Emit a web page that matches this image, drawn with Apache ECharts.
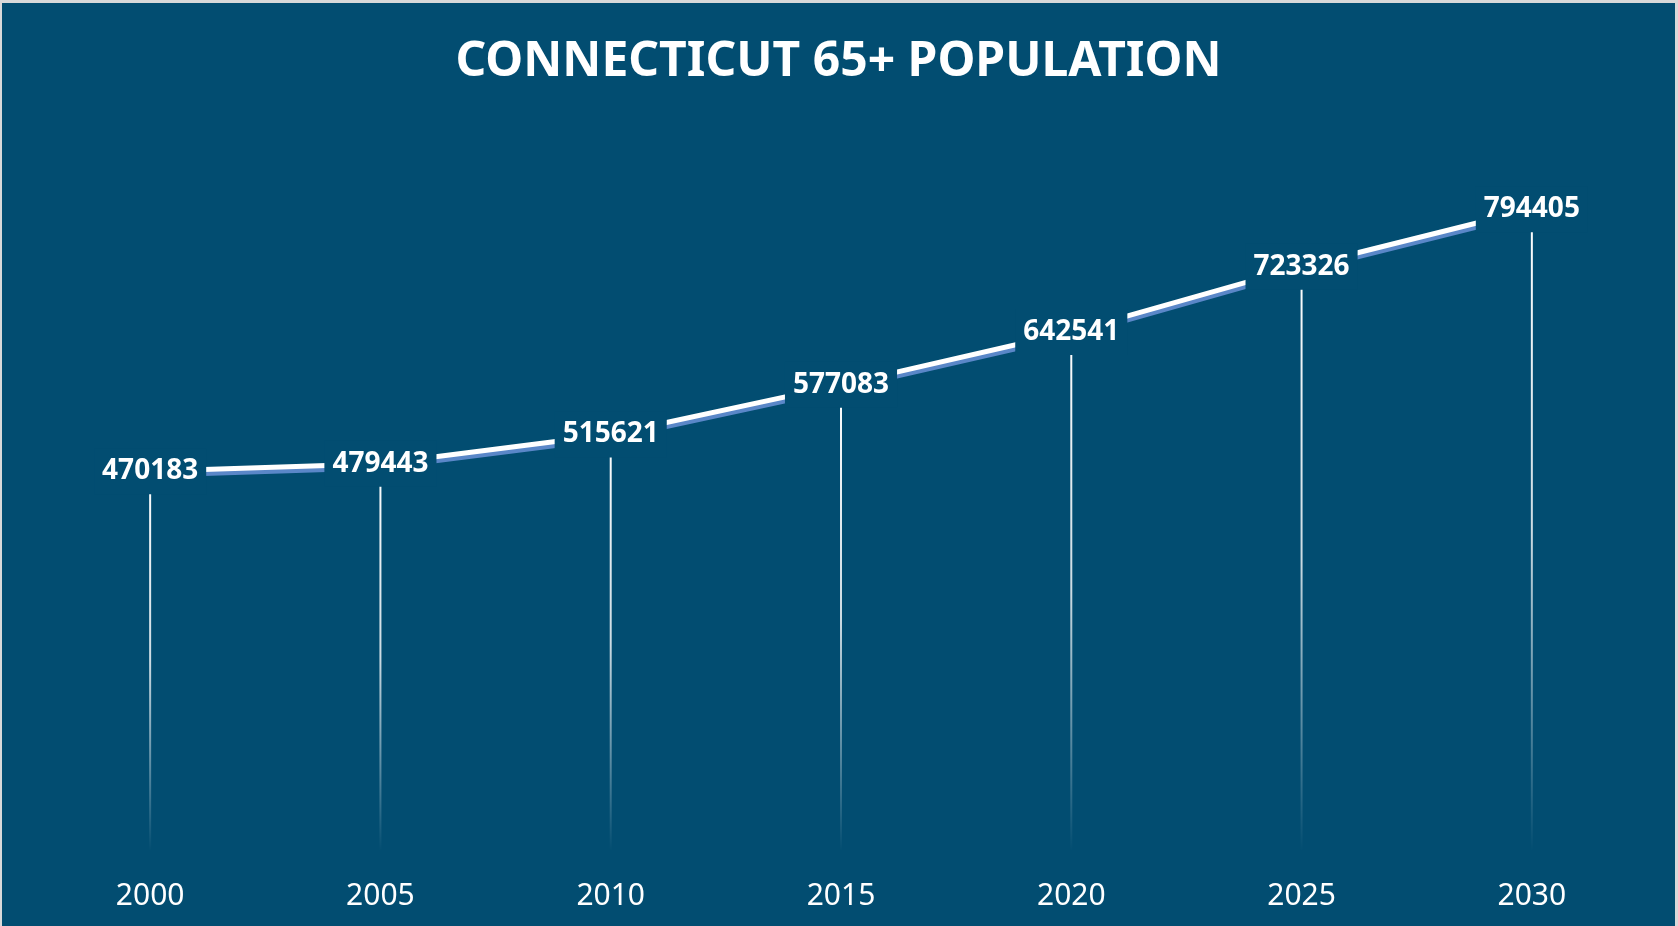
<!DOCTYPE html>
<html lang="en">
<head>
    <meta charset="UTF-8">
    <title>Connecticut 65+ Population</title>
    <script src="https://cdn.jsdelivr.net/npm/echarts@6/dist/echarts.min.js"></script>
    <style>
        body { margin: 0; background: #ffffff; }
        #frame { position: relative; width: 1678px; height: 926px; background: #d9d9d9; overflow: hidden; }
        #chart { position: absolute; left: 2px; top: 3px; width: 1673px; height: 923px; }
    </style>
</head>
<body>
    <div id="frame"><div id="chart"></div></div>
    <script>
        var years = ['2000', '2005', '2010', '2015', '2020', '2025', '2030'];
        var population = [470183, 479443, 515621, 577083, 642541, 723326, 794405];

        var bg = '#024D71';
        var font = 'Noto Sans';

        var myChart = echarts.init(document.getElementById('chart'));

        var option = {
            backgroundColor: bg,
            title: {
                text: 'CONNECTICUT 65+ POPULATION',
                left: 'center',
                top: 30,
                textStyle: {
                    color: '#ffffff',
                    fontFamily: font,
                    fontWeight: 'bold',
                    fontSize: 48
                }
            },
            grid: { left: 33, right: 28, top: 121, bottom: 75 },
            xAxis: {
                type: 'category',
                data: years,
                axisLine: { show: false },
                axisTick: { show: false },
                axisLabel: {
                    color: '#ffffff',
                    fontFamily: font,
                    fontSize: 30,
                    margin: 30
                }
            },
            yAxis: {
                type: 'value',
                min: 0,
                max: 900000,
                show: false,
                splitLine: { show: false }
            },
            series: [
                {
                    // drop lines
                    type: 'bar',
                    data: population,
                    barWidth: 2,
                    silent: true,
                    itemStyle: {
                        color: {
                            type: 'linear', x: 0, y: 0, x2: 0, y2: 1,
                            colorStops: [
                                { offset: 0, color: 'rgba(255,255,255,1)' },
                                { offset: 0.5, color: 'rgba(255,255,255,0.8)' },
                                { offset: 1, color: 'rgba(255,255,255,0)' }
                            ]
                        }
                    }
                },
                {
                    type: 'line',
                    data: population,
                    symbol: 'circle',
                    symbolSize: 2,
                    itemStyle: { color: '#ffffff' },
                    lineStyle: {
                        color: '#ffffff',
                        width: 5,
                        shadowColor: '#5a87c8',
                        shadowBlur: 0,
                        shadowOffsetY: 4
                    },
                    label: {
                        show: true,
                        position: 'inside',
                        color: '#ffffff',
                        fontFamily: font,
                        fontWeight: 'bold',
                        fontSize: 28,
                        lineHeight: 34,
                        backgroundColor: bg,
                        padding: [6, 8]
                    }
                }
            ]
        };

        myChart.setOption(option);
    </script>
</body>
</html>
